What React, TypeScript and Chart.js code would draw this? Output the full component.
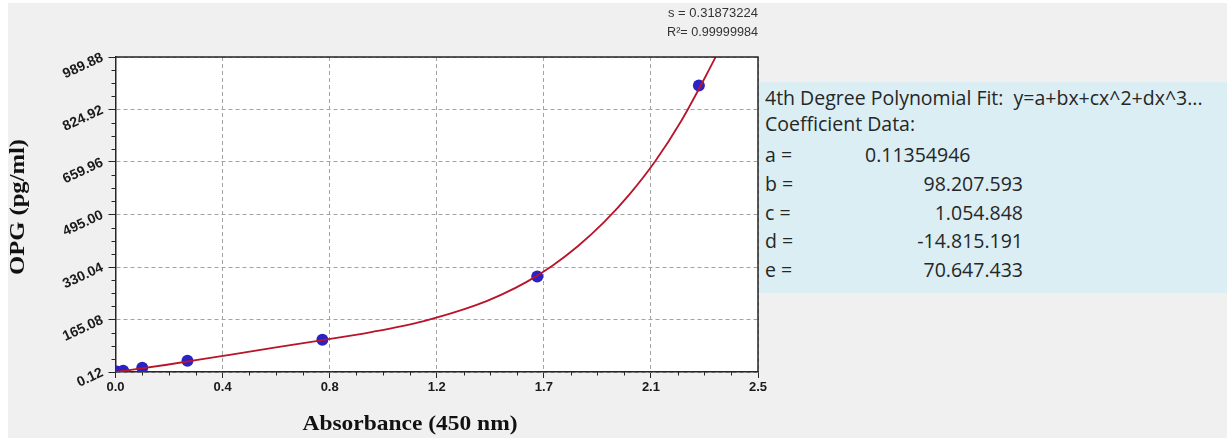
import { useEffect, useRef } from 'react';
import { Chart, registerables } from 'chart.js';

Chart.register(...registerables);

// Standards: absorbance at 450 nm and OPG concentration (pg/ml)
const absorbance = [0.005, 0.03, 0.104, 0.28, 0.805, 1.641, 2.27];
const opgConcentration = [1.5, 4.0, 13.6, 35.6, 101.5, 300.0, 900.0];

// Samples along the fitted 4th-degree curve
const fitAbsorbance = [0, 0.2, 0.4, 0.6, 0.8, 1.0, 1.2, 1.4, 1.5, 1.6, 1.7, 1.8, 1.9, 2.0, 2.1, 2.2, 2.3, 2.35];
const fitConcentration = [0.1, 22.9, 48.6, 74.2, 99.3, 126.3, 160.3, 209.2, 242.4, 283.4, 334.1, 396, 470, 558, 662, 787, 935, 1013];

const xTickLabels = ['0.0', '0.4', '0.8', '1.2', '1.7', '2.1', '2.5'];
const yTickLabels = ['0.12', '165.08', '330.04', '495.00', '659.96', '824.92', '989.88'];
const xMin = 0;
const xMax = 2.5;
const yMin = 0.12;
const yMax = 989.88;

const xTitle = 'Absorbance (450 nm)';
const yTitle = 'OPG (pg/ml)';
const fitStats = ['s = 0.31873224', 'R\u00B2= 0.99999984'];

const fitHeading = '4th Degree Polynomial Fit:  y=a+bx+cx^2+dx^3...';
const coefficientHeading = 'Coefficient Data:';
const coefficientNames = ['a =', 'b =', 'c =', 'd =', 'e ='];
const coefficientValues = ['0.11354946', '98.207.593', '1.054.848', '-14.815.191', '70.647.433'];

const SANS = "'Liberation Sans', Arial, sans-serif";
const SERIF = "'Liberation Serif', 'DejaVu Serif', serif";

const evenTicks = (min: number, max: number, count: number) =>
  Array.from({ length: count }, (_, i) => ({ value: min + (i * (max - min)) / (count - 1) }));

function drawFittedText(
  ctx: CanvasRenderingContext2D,
  text: string,
  x: number,
  y: number,
  width: number,
  font: string,
  color: string,
  align: CanvasTextAlign,
  angle = 0
) {
  ctx.save();
  ctx.font = font;
  const w = ctx.measureText(text).width || 1;
  ctx.translate(x, y);
  ctx.rotate(angle);
  ctx.scale(width / w, 1);
  ctx.fillStyle = color;
  ctx.textAlign = align;
  ctx.textBaseline = 'middle';
  ctx.fillText(text, 0, 0);
  ctx.restore();
}

const plotDecorations = {
  id: 'plotDecorations',
  beforeDraw(chart: any) {
    const { ctx, chartArea: a } = chart;
    ctx.save();
    ctx.fillStyle = '#ffffff';
    ctx.fillRect(a.left, a.top, a.right - a.left, a.bottom - a.top);
    ctx.restore();
  },
  afterDraw(chart: any) {
    const { ctx, chartArea: a, scales } = chart;
    const xs = scales.x;
    const ys = scales.y;
    ctx.save();
    // frame on the top and right sides
    ctx.strokeStyle = '#262626';
    ctx.lineWidth = 1.5;
    ctx.beginPath();
    ctx.moveTo(a.left, a.top);
    ctx.lineTo(a.right, a.top);
    ctx.lineTo(a.right, a.bottom);
    ctx.stroke();

    // minor ticks, three between each pair of major ticks
    ctx.lineWidth = 1;
    ctx.beginPath();
    for (let i = 0; i < xs.ticks.length - 1; i++) {
      const v0 = xs.ticks[i].value;
      const v1 = xs.ticks[i + 1].value;
      for (let k = 1; k < 4; k++) {
        const px = Math.round(xs.getPixelForValue(v0 + ((v1 - v0) * k) / 4)) + 0.5;
        ctx.moveTo(px, a.bottom);
        ctx.lineTo(px, a.bottom + 3.5);
      }
    }
    for (let i = 0; i < ys.ticks.length - 1; i++) {
      const v0 = ys.ticks[i].value;
      const v1 = ys.ticks[i + 1].value;
      for (let k = 1; k < 4; k++) {
        const py = Math.round(ys.getPixelForValue(v0 + ((v1 - v0) * k) / 4)) + 0.5;
        ctx.moveTo(a.left, py);
        ctx.lineTo(a.left - 4, py);
      }
    }
    ctx.stroke();
    ctx.restore();

    // axis titles
    drawFittedText(ctx, xTitle, 402, 421, 215, `bold 22px ${SERIF}`, '#111', 'center');
    drawFittedText(ctx, yTitle, 10, 204, 136, `bold 22px ${SERIF}`, '#111', 'center', -Math.PI / 2);

    // fit statistics above the plot
    drawFittedText(ctx, fitStats[0], a.right, 11, 90, `12px ${SANS}`, '#333', 'right');
    drawFittedText(ctx, fitStats[1], a.right, 30, 91, `12px ${SANS}`, '#333', 'right');
  },
};

function StandardCurve() {
  const canvasRef = useRef<HTMLCanvasElement | null>(null);

  useEffect(() => {
    const canvas = canvasRef.current;
    if (!canvas) return;

    const chart = new Chart(canvas, {
      type: 'scatter',
      data: {
        datasets: [
          {
            type: 'line',
            label: 'fit',
            data: fitAbsorbance.map((x, i) => ({ x, y: fitConcentration[i] })),
            borderColor: '#b8142a',
            borderWidth: 1.8,
            pointRadius: 0,
            fill: false,
            cubicInterpolationMode: 'monotone',
            order: 0,
          },
          {
            label: 'standards',
            data: absorbance.map((x, i) => ({ x, y: opgConcentration[i] })),
            backgroundColor: '#2a22c4',
            borderColor: '#2a22c4',
            borderWidth: 0,
            pointRadius: 6,
            order: 1,
          },
        ],
      } as any,
      options: {
        responsive: false,
        animation: false,
        events: [],
        layout: { padding: { left: 0, top: 54, right: 469, bottom: 0 } },
        plugins: {
          legend: { display: false },
          tooltip: { enabled: false },
          title: { display: false },
        },
        scales: {
          x: {
            type: 'linear',
            min: xMin,
            max: xMax,
            afterBuildTicks: (scale: any) => {
              scale.ticks = evenTicks(xMin, xMax, xTickLabels.length);
            },
            afterFit: (scale: any) => {
              scale.height = 66;
            },
            ticks: {
              autoSkip: false,
              maxRotation: 0,
              minRotation: 0,
              padding: 2,
              color: '#1a1a1a',
              font: { family: SANS, size: 13, weight: 'bold' },
              callback: (_v: any, i: number) => xTickLabels[i],
            },
            grid: {
              color: '#a3a3a3',
              lineWidth: 1,
              tickLength: 6,
              tickColor: '#262626',
              tickBorderDash: [],
            },
            border: { display: true, color: '#262626', width: 1.5, dash: [4, 3] },
            title: { display: false },
          },
          y: {
            type: 'linear',
            min: yMin,
            max: yMax,
            afterBuildTicks: (scale: any) => {
              scale.ticks = evenTicks(yMin, yMax, yTickLabels.length);
            },
            afterFit: (scale: any) => {
              scale.width = 107.5;
            },
            ticks: {
              autoSkip: false,
              minRotation: 25,
              maxRotation: 25,
              padding: 6,
              color: '#1a1a1a',
              font: { family: SANS, size: 14, weight: 'bold' },
              callback: (_v: any, i: number) => yTickLabels[i],
            },
            grid: {
              color: '#a3a3a3',
              lineWidth: 1,
              tickLength: 7,
              tickColor: '#262626',
              tickBorderDash: [],
            },
            border: { display: true, color: '#262626', width: 1.5, dash: [4, 3] },
            title: { display: false },
          },
        },
      } as any,
      plugins: [plotDecorations],
    });

    return () => chart.destroy();
  }, []);

  return (
    <canvas
      ref={canvasRef}
      width={1219}
      height={435}
      style={{ position: 'absolute', left: 8, top: 3, width: 1219, height: 435, background: '#f0f0f0', display: 'block' }}
    />
  );
}

function CoefficientPanel() {
  const rowTops = [60, 89, 118, 146, 175];
  return (
    <div
      style={{
        position: 'absolute',
        left: 759,
        top: 82,
        width: 468,
        height: 211,
        background: '#dbeef4',
        color: '#262626',
        fontFamily: "'Open Sans', 'Noto Sans', sans-serif",
        fontSize: 19.5,
        lineHeight: '26px',
        whiteSpace: 'pre',
      }}
    >
      <div style={{ position: 'absolute', left: 6, top: 3 }}>{fitHeading}</div>
      <div style={{ position: 'absolute', left: 6, top: 29 }}>{coefficientHeading}</div>
      {coefficientNames.map((name, i) => (
        <div key={name} style={{ position: 'absolute', left: 0, top: rowTops[i], width: 468, height: 26 }}>
          <span style={{ position: 'absolute', left: 6 }}>{name}</span>
          {i === 0 ? (
            <span style={{ position: 'absolute', left: 106 }}>{coefficientValues[i]}</span>
          ) : (
            <span style={{ position: 'absolute', right: 468 - 264 }}>{coefficientValues[i]}</span>
          )}
        </div>
      ))}
    </div>
  );
}

export default function App() {
  return (
    <div style={{ position: 'absolute', left: 0, top: 0, width: 1227, height: 441, background: '#ffffff', overflow: 'hidden' }}>
      <StandardCurve />
      <CoefficientPanel />
    </div>
  );
}
